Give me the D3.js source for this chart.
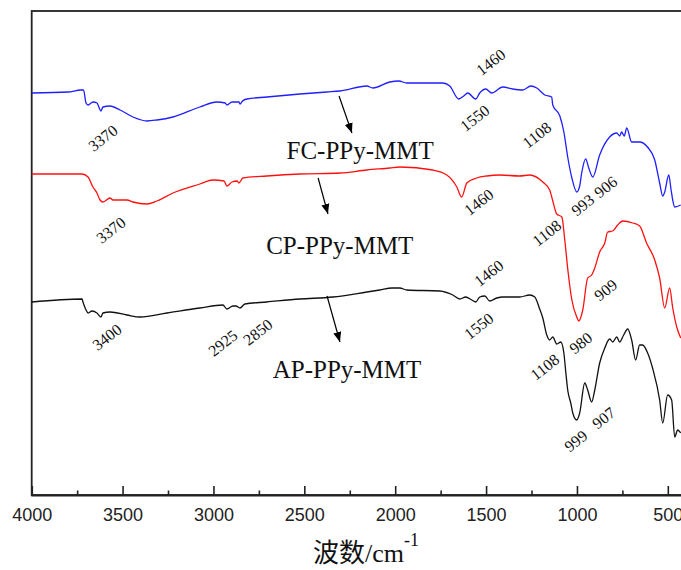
<!DOCTYPE html>
<html>
<head>
<meta charset="utf-8">
<script src="https://cdn.jsdelivr.net/npm/d3@7"></script>
<style>
  body { margin: 0; background: #fff; }
</style>
</head>
<body>
<div id="chart"></div>
<script>
// Spectra: [wavenumber cm-1, transmittance (a.u., offset)]
const fcSpectrum = [
  [4000, 402], [3800, 403], [3729, 405], [3715, 405], [3701, 392], [3690, 390], [3663, 393],
  [3640, 392], [3635, 390], [3619, 384], [3608, 388], [3569, 389], [3514, 385], [3443, 378],
  [3366, 374], [3311, 375], [3223, 378], [3075, 388], [2981, 393], [2935, 392], [2926, 390],
  [2898, 393], [2860, 393], [2854, 391], [2840, 394], [2816, 396], [2706, 398], [2524, 401],
  [2376, 403], [2304, 404], [2156, 409], [2123, 407], [2030, 413], [1980, 414], [1936, 412],
  [1738, 412], [1700, 409], [1650, 396], [1623, 399], [1601, 402], [1557, 396], [1535, 402],
  [1502, 406], [1469, 402], [1408, 408], [1353, 406], [1298, 405], [1254, 409], [1221, 407],
  [1177, 400], [1139, 398], [1133, 390], [1094, 379], [1072, 363], [1050, 337], [1028, 317],
  [1001, 303], [985, 309], [974, 322], [952, 336], [935, 327], [913, 318], [875, 340],
  [820, 358], [781, 362], [765, 359], [754, 363], [740, 359], [726, 367], [699, 353],
  [656, 353], [612, 348], [572, 335], [545, 312], [528, 299], [517, 303], [495, 320],
  [482, 305], [473, 295], [462, 288], [429, 290]
];

const cpSpectrum = [
  [4000, 321], [3723, 321], [3690, 318], [3663, 308], [3641, 302], [3624, 295], [3608, 293],
  [3569, 297], [3553, 295], [3476, 295], [3443, 293], [3366, 291], [3311, 294], [3223, 302],
  [3075, 311], [3003, 315], [2942, 314], [2926, 309], [2898, 313], [2870, 314], [2860, 312],
  [2838, 317], [2706, 319], [2524, 321], [2304, 322], [2156, 325], [2030, 327], [1975, 328],
  [1793, 325], [1716, 320], [1661, 308], [1634, 298], [1606, 312], [1551, 317], [1496, 319],
  [1425, 320], [1315, 319], [1260, 320], [1188, 313], [1150, 305], [1133, 294], [1111, 281],
  [1083, 278], [1067, 255], [1050, 225], [1028, 195], [1001, 178], [990, 174], [968, 185],
  [941, 217], [919, 220], [902, 227], [875, 243], [847, 252], [831, 263], [803, 264],
  [776, 270], [748, 274], [693, 272], [655, 269], [617, 252], [572, 235], [545, 217],
  [517, 187], [490, 207], [473, 187], [451, 168], [429, 157]
];

const apSpectrum = [
  [4000, 193], [3723, 196], [3718, 193], [3701, 185], [3690, 182], [3668, 184], [3641, 182],
  [3619, 178], [3608, 182], [3569, 183], [3476, 180], [3404, 178], [3256, 182], [3075, 187],
  [2948, 190], [2926, 186], [2893, 189], [2876, 189], [2854, 187], [2827, 191], [2706, 193],
  [2524, 196], [2343, 198], [2156, 203], [2085, 205], [2018, 207], [1975, 207], [1936, 205],
  [1755, 204], [1683, 200], [1645, 196], [1612, 198], [1579, 195], [1557, 193], [1535, 198],
  [1507, 199], [1480, 194], [1441, 197], [1408, 198], [1315, 198], [1260, 200], [1232, 198],
  [1205, 186], [1188, 177], [1166, 160], [1150, 155], [1133, 158], [1111, 151], [1089, 153],
  [1072, 142], [1061, 122], [1050, 104], [1034, 92], [1023, 82], [1001, 75], [985, 82],
  [957, 112], [941, 105], [919, 93], [902, 105], [875, 132], [847, 147], [820, 156],
  [803, 153], [781, 158], [765, 153], [743, 160], [721, 166], [699, 155], [677, 135],
  [655, 150], [639, 150], [611, 142], [584, 127], [545, 95], [528, 72], [501, 100],
  [479, 95], [462, 58], [446, 65], [429, 62]
];

const seriesNames = ["FC-PPy-MMT", "CP-PPy-MMT", "AP-PPy-MMT"];
const seriesColors = ["#1f1fff", "#ff1010", "#111111"];

// sample name position [wavenumber, value] (centre, baseline)
const namePositions = [[2193, 336], [2305, 241], [2265, 117]];
// arrows [fromWn, fromVal, toWn, toVal]
const arrows = [
  [2309, 399, 2238, 362],
  [2424, 317, 2370, 281],
  [2375, 199, 2304, 153]
];

// peak labels [text, wavenumber, value]
const peakLabels = [
  ["3370", 3608, 357], ["1550", 1562, 377], ["1460", 1474, 433], ["1108", 1221, 360],
  ["993", 968, 290], ["906", 842, 308],
  ["3370", 3564, 265], ["1460", 1540, 293], ["1108", 1166, 262], ["909", 842, 205],
  ["3400", 3586, 158], ["2925", 2948, 152], ["2850", 2756, 163], ["1460", 1485, 222],
  ["1550", 1540, 169], ["1108", 1177, 128], ["980", 979, 152], ["999", 1006, 54], ["907", 853, 77]
];

const majorTicks = [4000, 3500, 3000, 2500, 2000, 1500, 1000, 500];
const minorTicks = [3750, 3250, 2750, 2250, 1750, 1250, 750];

const width = 681, height = 570;
const plot = { left: 31.7, right: 686, top: 11, bottom: 495 };

const svg = d3.select("#chart").append("svg")
  .attr("width", width)
  .attr("height", height);

const x = d3.scaleLinear().domain([4000, 400]).range([plot.left, plot.right]);
const y = d3.scaleLinear().domain([0, 484]).range([plot.bottom, plot.top]);

svg.append("defs").append("marker")
  .attr("id", "head")
  .attr("viewBox", "0 0 10 10")
  .attr("refX", 10).attr("refY", 5)
  .attr("markerWidth", 10).attr("markerHeight", 10)
  .attr("markerUnits", "userSpaceOnUse")
  .attr("orient", "auto")
  .append("path")
  .attr("d", "M0,1 L10,5 L0,9 Z")
  .attr("fill", "#000");

// frame
svg.append("rect")
  .attr("x", plot.left).attr("y", plot.top)
  .attr("width", plot.right - plot.left)
  .attr("height", plot.bottom - plot.top)
  .attr("fill", "none")
  .attr("stroke", "#222")
  .attr("stroke-width", 1.8);

// axis
const axisG = svg.append("g")
  .attr("transform", `translate(0,${plot.bottom})`)
  .call(d3.axisBottom(x).tickValues(majorTicks).tickSize(-9).tickPadding(13).tickFormat(d3.format("d")));
axisG.select(".domain").attr("stroke", "#222").attr("stroke-width", 1.8);
axisG.selectAll(".tick line").attr("stroke", "#222").attr("stroke-width", 1.6);
axisG.selectAll(".tick text")
  .attr("fill", "#222")
  .style("font-family", "'Liberation Sans', Arial, sans-serif")
  .style("font-size", "18px");

const minorG = svg.append("g")
  .attr("transform", `translate(0,${plot.bottom})`)
  .call(d3.axisBottom(x).tickValues(minorTicks).tickSize(-4.5).tickFormat(""));
minorG.select(".domain").remove();
minorG.selectAll(".tick line").attr("stroke", "#222").attr("stroke-width", 1.6);

// axis title
const title = svg.append("text")
  .attr("x", 313).attr("y", 562)
  .attr("fill", "#111")
  .style("font-family", "'Liberation Serif', 'Times New Roman', 'Noto Sans CJK SC', serif")
  .style("font-size", "26px");
title.append("tspan").text("波数/cm");
title.append("tspan").attr("dy", -16).style("font-size", "18px").text("-1");

// spectra
const line = d3.line()
  .x(d => x(d[0]))
  .y(d => y(d[1]))
  .curve(d3.curveMonotoneX);

[fcSpectrum, cpSpectrum, apSpectrum].forEach((s, i) => {
  svg.append("path")
    .datum(s)
    .attr("fill", "none")
    .attr("stroke", seriesColors[i])
    .attr("stroke-width", 1.3)
    .attr("stroke-linejoin", "round")
    .attr("d", line);
});

// arrows
svg.selectAll(".arrow")
  .data(arrows)
  .join("line")
  .attr("x1", d => x(d[0])).attr("y1", d => y(d[1]))
  .attr("x2", d => x(d[2])).attr("y2", d => y(d[3]))
  .attr("stroke", "#000")
  .attr("stroke-width", 1.2)
  .attr("marker-end", "url(#head)");

// sample names
svg.selectAll(".name")
  .data(seriesNames)
  .join("text")
  .attr("x", (d, i) => x(namePositions[i][0]))
  .attr("y", (d, i) => y(namePositions[i][1]))
  .attr("text-anchor", "middle")
  .attr("fill", "#111")
  .style("font-family", "'Liberation Serif', 'Times New Roman', serif")
  .style("font-size", "25px")
  .text(d => d);

// peak labels
svg.selectAll(".peak")
  .data(peakLabels)
  .join("text")
  .attr("transform", d => `translate(${x(d[1])},${y(d[2])}) rotate(-38)`)
  .attr("text-anchor", "middle")
  .attr("dominant-baseline", "central")
  .attr("fill", "#111")
  .style("font-family", "'Liberation Serif', 'Times New Roman', serif")
  .style("font-size", "16px")
  .text(d => d[0]);
</script>
</body>
</html>
